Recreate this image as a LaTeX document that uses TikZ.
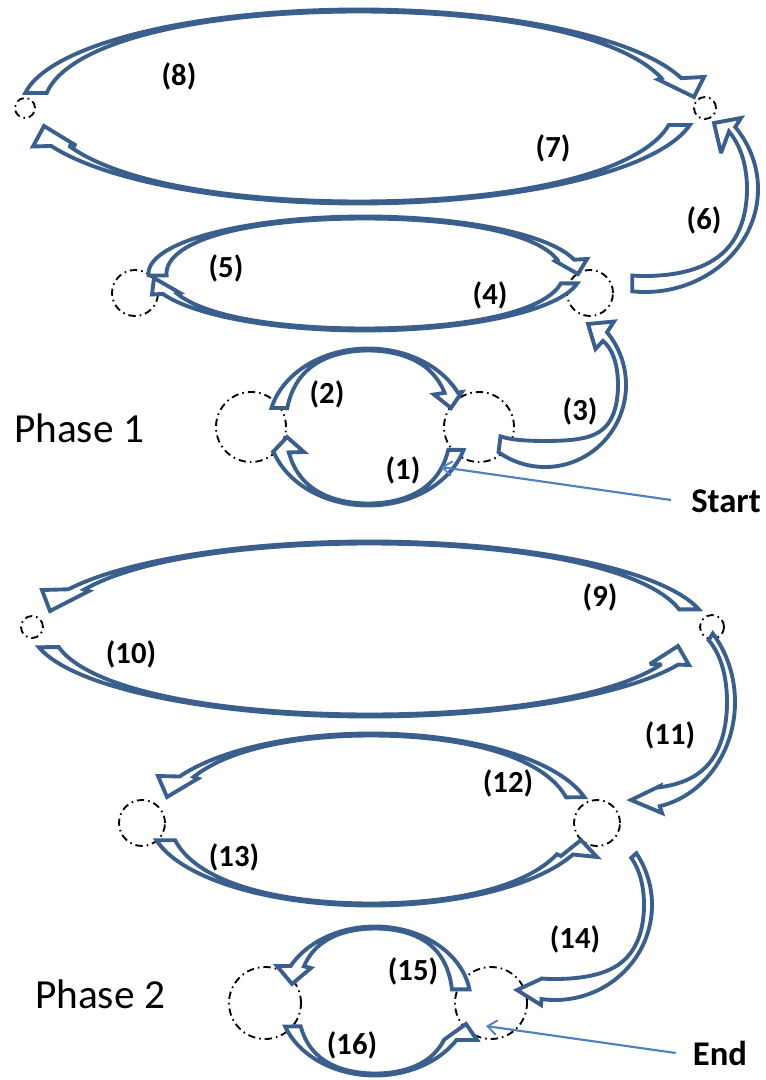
\documentclass[tikz,border=0pt]{standalone}
\usepackage{fontspec}
\setmainfont{Carlito}
\usetikzlibrary{calc,arrows.meta}
\definecolor{bandblue}{HTML}{3A5F8C}
\definecolor{ptrblue}{HTML}{4F81BD}
\def\Bp{1.4}
% curved block arrow: (cx,cy,rx,ry)(w,t,ts,te)(Bo)(Tip)(Bi)
\def\barrow(#1,#2,#3,#4)(#5,#6,#7,#8){%
  \def\Bcx{#1}\def\Bcy{#2}\def\Brx{#3}\def\Bry{#4}%
  \def\Bw{#5}\def\Bt{#6}\def\Bts{#7}\def\Bte{#8}%
  \barrowhead}
\def\barrowhead(#1,#2)(#3,#4)(#5,#6){%
  \draw[blk] plot[domain=\Bts:\Bte,samples=100,variable=\u] ({\Bcx+\Brx*cos(\u)},{\Bcy+\Bry*sin(\u)})
    -- (#1,#2) -- (#3,#4) -- (#5,#6)
    -- plot[domain=\Bte:\Bts,samples=100,variable=\u]
       ({\Bcx+(\Brx-\Bw*abs(cos(\u))^\Bp)*cos(\u)},{\Bcy+(\Bry-\Bt*abs(sin(\u))^\Bp)*sin(\u)}) -- cycle;}
\begin{document}
\begin{tikzpicture}[x=0.75pt,y=-0.75pt,
  blk/.style={draw=bandblue,fill=white,line width=2.9pt,line join=miter,miter limit=3},
  circ/.style={draw=black,circle,inner sep=0pt,line width=1.4pt,dash pattern=on 5.5pt off 3pt on 1.2pt off 3pt},
  lbl/.style={font=\bfseries\fontsize{23}{25}\selectfont,inner sep=0pt},
  phase/.style={font=\fontsize{31}{34}\selectfont,inner sep=0pt},
  note/.style={font=\bfseries\fontsize{26}{28}\selectfont,inner sep=0pt},
  ptr/.style={draw=ptrblue,line width=1.6pt,-{Straight Barb[length=7pt,width=11pt,line width=1.4pt]}}]
\useasboundingbox[fill=white] (0,0) rectangle (766,1080);

% ---------- circles ----------
\node[circ,minimum size=15pt]   (c8l) at (25,108) {};
\node[circ,minimum size=16.5pt] (c8r) at (705,108) {};
\node[circ,minimum size=34.5pt] (c5l) at (135,293) {};
\node[circ,minimum size=34.5pt] (c4r) at (590,293) {};
\node[circ,minimum size=52.5pt] (c2l) at (251,427) {};
\node[circ,minimum size=52.5pt] (c2r) at (479,427) {};
\node[circ,minimum size=16.5pt] (c10l) at (32,627) {};
\node[circ,minimum size=18pt]   (c9r) at (712,627) {};
\node[circ,minimum size=34.5pt] (c13l) at (142,823) {};
\node[circ,minimum size=34.5pt] (c12r) at (597,823) {};
\node[circ,minimum size=54pt]   (c15l) at (265,1003) {};
\node[circ,minimum size=54pt]   (c15r) at (491,1003) {};

% ---------- Phase 1 ----------
% (8) top big
\barrow(359,106.5,337,97)(22,2,188,343)(704,77)(694,97)(658,79.5)
% (7) bottom big
\barrow(359,106.5,337,97)(22,2,11,156)(33,146.5)(44,126)(76,145.5)
% (5) top middle
\barrow(364.5,273.5,216,57)(18,2,178,346)(587,259)(578,274)(555,261)
% (4) bottom middle
\barrow(364.5,273.5,216,57)(17,2,10,159)(152,294.5)(154,278)(180,293)
% (2) top small
\barrow(368.2,427,99.7,78.5)(17,2,194,334)(462,392)(451,408)(434,394.5)
% (1) bottom small
\barrow(368.2,427,99.7,78.5)(17,2,17,161)(272,453)(287,437)(304,452)

% ---------- Phase 2 ----------
% (9) top big
\barrow(369.5,629,338,87.5)(21,2,347,207)(42,590)(50,611)(89,591)
% (10) bottom big
\barrow(369.5,629,338,87.5)(21,2,168,24)(689,665)(678,646)(650,664)
% (12) top middle
\barrow(371,819.5,221,86)(20,2,345,210)(158,776)(167,797)(198,778.5)
% (13) bottom middle
\barrow(371,819.5,221,86)(20,2,166,24)(597,857)(581,840)(561,856)
% (15) top small
\barrow(375,1001,95.6,74.5)(18,2,351,208)(277,966)(292,984)(311,968)
% (16) bottom small
\barrow(375,1001,95.6,74.5)(18,2,160,31.5)(477,1040)(466,1024)(445,1039)

% ---------- side arrows ----------
\def\Bp{1.5}
% (3)
\barrow(545,385,81,82)(8,26,125,-40)(614,321.5)(588,324)(595.5,349)
% (6)
\barrow(645,189,113,103)(11,16,96.5,-37)(741,118)(714,123)(721,153)
% (11)
\barrow(640,702,95,106.5)(8,20,-40,78)(662,813)(631,800)(660,786)
% (14)
\barrow(555,905,97,95)(8,21,-33,98)(541,1005)(517,990)(543,978)

% ---------- labels ----------
\node[lbl] (l8) at (179,76) {(8)};
\node[lbl] (l7) at (553,148) {(7)};
\node[lbl] (l6) at (704,220) {(6)};
\node[lbl] (l5) at (226,268) {(5)};
\node[lbl] (l4) at (490,295) {(4)};
\node[lbl] (l3) at (580,411) {(3)};
\node[lbl] (l2) at (327,394) {(2)};
\node[lbl] (l1) at (403,470) {(1)};
\node[lbl] (l9) at (600,597) {(9)};
\node[lbl] (l10) at (131,654) {(10)};
\node[lbl] (l11) at (670,735) {(11)};
\node[lbl] (l12) at (508,783) {(12)};
\node[lbl] (l13) at (234,857) {(13)};
\node[lbl] (l14) at (575,939) {(14)};
\node[lbl] (l15) at (413,971) {(15)};
\node[lbl] (l16) at (352,1045) {(16)};

\node[phase] (ph1) at (79,428) {Phase 1};
\node[phase] (ph2) at (100,994) {Phase 2};
\node[note] (start) at (726,501) {Start};
\node[note] (end) at (720,1053) {End};

\coordinate (starttip) at (441,467);
\coordinate (endtip) at (486,1026);
\draw[ptr] ($(start.west)+(-20,-1)$) -- (starttip);
\draw[ptr] ($(end.west)+(-17,0)$) -- (endtip);
\end{tikzpicture}
\end{document}
